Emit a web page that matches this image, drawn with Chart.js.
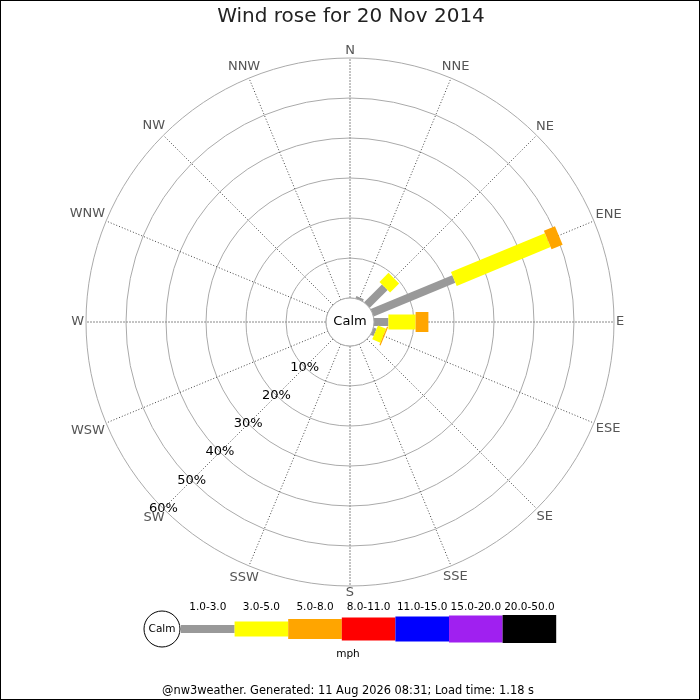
<!DOCTYPE html>
<html>
<head>
<meta charset="utf-8">
<title>Wind rose</title>
<script src="https://cdn.jsdelivr.net/npm/chart.js@4.4.1/dist/chart.umd.min.js"></script>
<style>
  body { margin: 0; background: #fff; }
  canvas { display: block; }
</style>
</head>
<body>
<canvas id="windRose" width="700" height="700"></canvas>
<script>
const directions = ['N', 'NNE', 'NE', 'ENE', 'E', 'ESE', 'SE', 'SSE', 'S', 'SSW', 'SW', 'WSW', 'W', 'WNW', 'NW', 'NNW'];
const speedBands = ['1.0-3.0', '3.0-5.0', '5.0-8.0', '8.0-11.0', '11.0-15.0', '15.0-20.0', '20.0-50.0'];
// % of the day from each direction, one array per speed band (mph)
const band1to3 = [0, 0.6, 6.3, 22.1, 3.6, 0.8, 0, 0, 0, 0, 0, 0, 0, 0, 0, 0];
const band3to5 = [0, 0, 3.2, 25.4, 6.8, 2.2, 0, 0, 0, 0, 0, 0, 0, 0, 0, 0];
const band5to8 = [0, 0, 0, 3.0, 3.2, 0.3, 0, 0, 0, 0, 0, 0, 0, 0, 0, 0];
const band8to11 = [0, 0, 0, 0, 0, 0, 0, 0, 0, 0, 0, 0, 0, 0, 0, 0];
const band11to15 = [0, 0, 0, 0, 0, 0, 0, 0, 0, 0, 0, 0, 0, 0, 0, 0];
const band15to20 = [0, 0, 0, 0, 0, 0, 0, 0, 0, 0, 0, 0, 0, 0, 0, 0];
const band20to50 = [0, 0, 0, 0, 0, 0, 0, 0, 0, 0, 0, 0, 0, 0, 0, 0];
const ringTicks = [0, 10, 20, 30, 40, 50, 60];

const bandColours = ['#999999', '#ffff00', '#ffa500', '#ff0000', '#0000ff', '#a020f0', '#000000'];
const bandWidths = [8, 15, 20, 23, 25, 27, 28];
const font = 'DejaVu Sans';

const bandData = [band1to3, band3to5, band5to8, band8to11, band11to15, band15to20, band20to50];

// bars are stacked outwards along each spoke, using the radial scale for positions
const windBars = {
  id: 'windBars',
  afterDatasetsDraw(chart) {
    const ctx = chart.ctx;
    const r = chart.scales.r;
    ctx.save();
    ctx.lineCap = 'butt';
    directions.forEach((d, i) => {
      let base = 0;
      chart.data.datasets.forEach(ds => {
        const v = ds.data[i];
        if (!v) return;
        const p0 = r.getPointPositionForValue(i, base);
        const p1 = r.getPointPositionForValue(i, base + v);
        ctx.strokeStyle = ds.borderColor;
        ctx.lineWidth = ds.barWidth;
        ctx.beginPath();
        ctx.moveTo(p0.x, p0.y);
        ctx.lineTo(p1.x, p1.y);
        ctx.stroke();
        base += v;
      });
    });

    // calm circle in the middle
    const calmR = r.getDistanceFromCenterForValue(0);
    ctx.beginPath();
    ctx.arc(r.xCenter, r.yCenter, calmR, 0, Math.PI * 2);
    ctx.fillStyle = '#fff';
    ctx.fill();
    ctx.strokeStyle = '#aaa';
    ctx.lineWidth = 1;
    ctx.stroke();
    ctx.fillStyle = '#000';
    ctx.font = '13px "' + font + '"';
    ctx.textAlign = 'center';
    ctx.textBaseline = 'middle';
    ctx.fillText('Calm', r.xCenter, r.yCenter);

    // direction names round the outside
    ctx.fillStyle = '#555';
    directions.forEach((d, i) => {
      const a = i * Math.PI / 8;
      const w = ctx.measureText(d).width;
      const dist = r.drawingArea + 2 + (w / 2) * Math.abs(Math.sin(a)) + 5 * Math.abs(Math.cos(a));
      const p = r.getPointPosition(i, dist);
      ctx.fillText(d, p.x, p.y);
    });

    // ring labels along the SW spoke
    ctx.fillStyle = '#000';
    ringTicks.slice(1).forEach(t => {
      const p = r.getPointPositionForValue(10, t);
      ctx.fillText(t + '%', p.x, p.y);
    });
    ctx.restore();
  },
  afterDraw(chart) {
    const ctx = chart.ctx;
    ctx.save();
    ctx.textAlign = 'center';
    ctx.textBaseline = 'middle';
    ctx.fillStyle = '#222';
    ctx.font = '20px "' + font + '"';
    ctx.fillText('Wind rose for 20 Nov 2014', 351, 17);

    // speed legend
    const y = 629;
    const x0 = 181;
    const segW = 53.6;
    ctx.font = '10.5px "' + font + '"';
    speedBands.forEach((b, k) => {
      ctx.fillStyle = bandColours[k];
      ctx.fillRect(x0 + k * segW, y - bandWidths[k] / 2, segW, bandWidths[k]);
      ctx.fillStyle = '#000';
      ctx.fillText(b, x0 + k * segW + segW / 2, 607);
    });
    ctx.beginPath();
    ctx.arc(162, y, 18, 0, Math.PI * 2);
    ctx.fillStyle = '#fff';
    ctx.fill();
    ctx.strokeStyle = '#000';
    ctx.lineWidth = 1;
    ctx.stroke();
    ctx.fillStyle = '#000';
    ctx.fillText('Calm', 162, y);
    ctx.fillText('mph', 348, 654);

    ctx.font = '11.4px "' + font + '"';
    ctx.fillText('@nw3weather. Generated: 11 Aug 2026 08:31; Load time: 1.18 s', 348, 691);

    ctx.strokeStyle = '#000';
    ctx.strokeRect(0.5, 0.5, 699, 699);
    ctx.restore();
  }
};

const ctx = document.getElementById('windRose');
const windRose = new Chart(ctx, {
  type: 'radar',
  data: {
    labels: directions,
    datasets: speedBands.map((b, k) => ({
      label: b,
      data: bandData[k],
      borderColor: bandColours[k],
      backgroundColor: bandColours[k],
      barWidth: bandWidths[k],
      fill: false,
      showLine: false,
      pointRadius: 0,
      pointHoverRadius: 0
    }))
  },
  options: {
    responsive: false,
    animation: false,
    layout: {
      padding: { left: 86, right: 86, top: 58, bottom: 114 }
    },
    scales: {
      r: {
        min: -6, // leaves room for the calm circle
        max: 60,
        startAngle: 0,
        afterBuildTicks: scale => {
          scale.ticks = ringTicks.map(v => ({ value: v }));
        },
        ticks: { display: false },
        pointLabels: { display: false },
        grid: { circular: true, color: '#aaa', lineWidth: 1 },
        angleLines: {
          color: ctx => ctx.index % 4 === 0 ? '#888' : '#444',
          lineWidth: 1,
          borderDash: ctx => ctx.index % 4 === 0 ? [2, 1] : [1, 2]
        }
      }
    },
    plugins: {
      legend: { display: false },
      tooltip: { enabled: false }
    }
  },
  plugins: [windBars]
});
</script>
</body>
</html>
